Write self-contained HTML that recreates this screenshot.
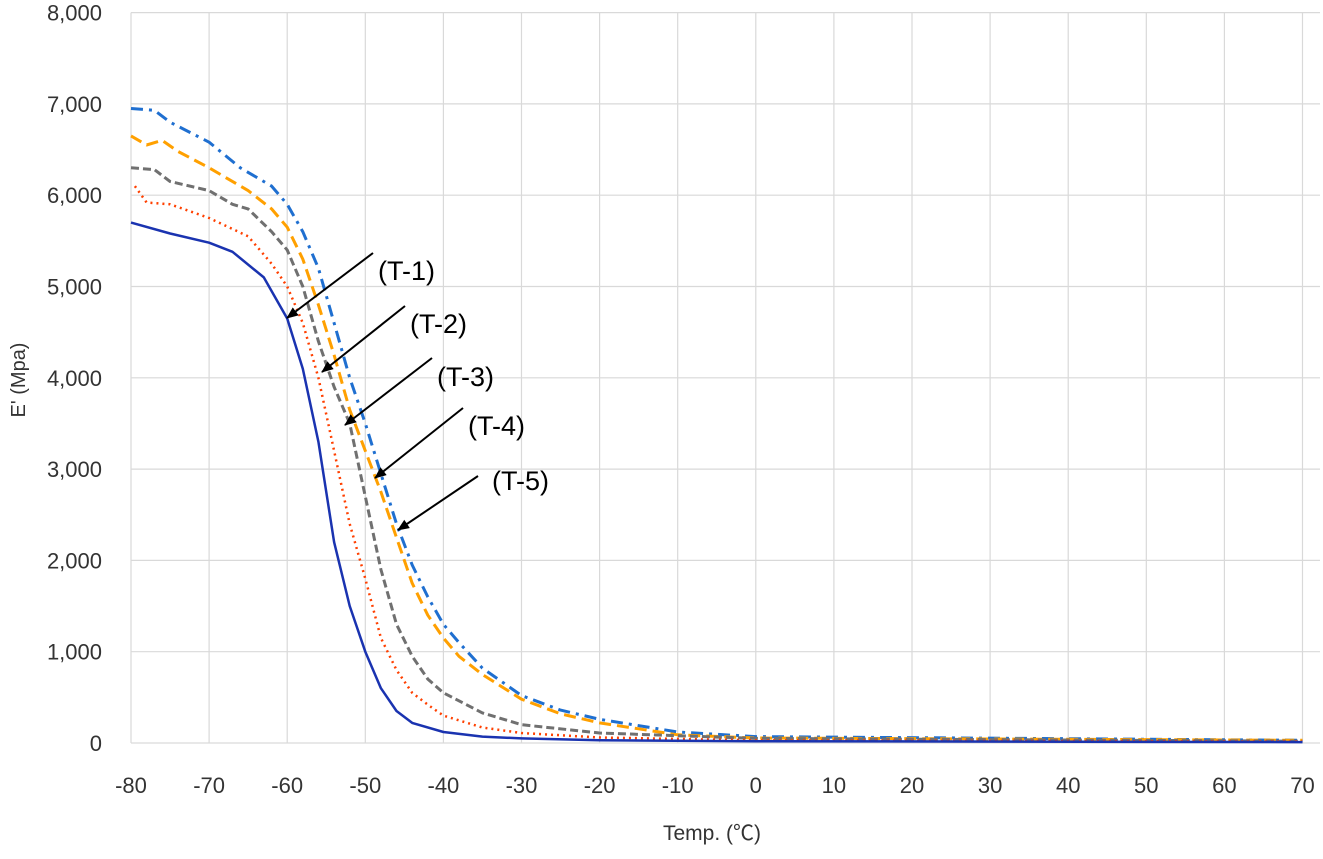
<!DOCTYPE html>
<html><head><meta charset="utf-8"><style>
body{margin:0;background:#fff;}
svg text{font-family:"Liberation Sans","Noto Sans CJK JP",sans-serif;}
</style></head><body>
<svg id="chart" width="1323" height="854" xmlns="http://www.w3.org/2000/svg">
<defs><marker id="ah" markerWidth="12" markerHeight="10" refX="11" refY="5" orient="auto" markerUnits="userSpaceOnUse"><path d="M0,0 L12,5 L0,10 z" fill="#000"/></marker></defs>
<g id="grid"></g><g id="series"></g><g id="ann"></g>
<text x="0" y="0" transform="translate(25,380) rotate(-90)" text-anchor="middle" font-size="20" fill="#333">E' (Mpa)</text>
<text x="712" y="840" text-anchor="middle" font-size="21" fill="#333">Temp. (℃)</text>
</svg>
<script>
const xTicks=[-80,-70,-60,-50,-40,-30,-20,-10,0,10,20,30,40,50,60,70];
const yTicks=[0,1000,2000,3000,4000,5000,6000,7000,8000];
const t1x=[-80,-75,-70,-67,-63,-60,-58,-56,-54,-52,-50,-48,-46,-44,-40,-35,-30,-20,0,70];
const t1y=[5700,5580,5480,5380,5100,4650,4100,3300,2200,1500,1000,600,350,220,120,70,50,30,20,10];
const t2x=[-79.5,-78,-75,-70,-65,-62,-60,-58,-56,-54,-52,-50,-48,-46,-44,-42,-40,-35,-30,-20,0,70];
const t2y=[6100,5920,5900,5750,5550,5250,5000,4600,4000,3200,2400,1800,1150,800,550,420,300,170,110,60,30,15];
const t3x=[-80,-77,-75,-70,-67,-65,-62,-60,-58,-56,-54,-52,-50,-48,-46,-44,-42,-40,-35,-30,-20,0,70];
const t3y=[6300,6280,6150,6050,5900,5850,5600,5400,5000,4400,3900,3500,2700,1900,1300,950,700,550,330,200,110,50,20];
const t4x=[-80,-78,-76,-74,-70,-65,-62,-60,-58,-56,-54,-52,-50,-48,-46,-44,-42,-40,-38,-35,-30,-25,-20,-10,0,70];
const t4y=[6650,6550,6600,6480,6300,6050,5850,5650,5300,4800,4250,3650,3200,2750,2250,1750,1400,1150,950,750,480,320,220,90,55,30];
const t5x=[-80,-77,-75,-70,-66,-62,-60,-58,-56,-54,-52,-50,-48,-46,-44,-42,-40,-38,-35,-30,-25,-20,-10,0,70];
const t5y=[6950,6930,6800,6580,6300,6100,5900,5600,5200,4600,4000,3500,2950,2400,1950,1600,1300,1100,820,520,360,260,120,70,30];
const labels=["(T-1)","(T-2)","(T-3)","(T-4)","(T-5)"];
const NS="http://www.w3.org/2000/svg";
const X=v=>131+(v+80)*7.81;
const Y=v=>743-v*0.0913;
function mk(tag,attrs,parent){const e=document.createElementNS(NS,tag);for(const k in attrs)e.setAttribute(k,attrs[k]);parent.appendChild(e);return e;}
const grid=document.getElementById('grid');
xTicks.forEach(t=>{
  const l=mk('line',{x1:X(t),x2:X(t),y1:Y(8000),y2:Y(0),stroke:'#d9d9d9','stroke-width':1.2},grid);
  
  
  const tx=mk('text',{x:X(t),y:793,'text-anchor':'middle','font-size':22,fill:'#333'},grid);
  tx.textContent=t;
  
  
});
yTicks.forEach(t=>{
  const l=mk('line',{x1:X(-80),x2:1320,y1:Y(t),y2:Y(t),stroke:'#d9d9d9','stroke-width':1.2},grid);
  
  
  const tx=mk('text',{x:102,y:Y(t)+8,'text-anchor':'end','font-size':22,fill:'#333'},grid);
  tx.textContent=t.toLocaleString('en-US');
  
  
});
const sg=document.getElementById('series');
function series(xs,ys,color,dash,name,w){
  const d=xs.map((x,i)=>(i?'L':'M')+X(x).toFixed(1)+','+Y(ys[i]).toFixed(1)).join(' ');
  const p=mk('path',{d:d,fill:'none',stroke:color,'stroke-width':w,'stroke-dasharray':dash,'stroke-linejoin':'round'},sg);
  
  
}
series(t5x,t5y,'#1f6fd0','12 6 3 6','series-t5',3);
series(t4x,t4y,'#ffa000','12 6','series-t4',3);
series(t3x,t3y,'#707070','8 4','series-t3',3);
series(t2x,t2y,'#ff4000','2 4','series-t2',2.5);
series(t1x,t1y,'#1a33b0','','series-t1',2.5);
const ann=document.getElementById('ann');
const arrows=[[373,253,287,318,378,280],[405,306,322,372,410,333],[432,358,345,425,437,386],[463,408,375,478,468,435],[478,476,398,530,492,490]];
arrows.forEach((a,i)=>{
  const l=mk('line',{x1:a[0],y1:a[1],x2:a[2],y2:a[3],stroke:'#000','stroke-width':2,'marker-end':'url(#ah)'},ann);
  
  
  const t=mk('text',{x:a[4],y:a[5],'font-size':27,fill:'#000'},ann);
  t.textContent=labels[i];
  
  
});
</script>
</body></html>
